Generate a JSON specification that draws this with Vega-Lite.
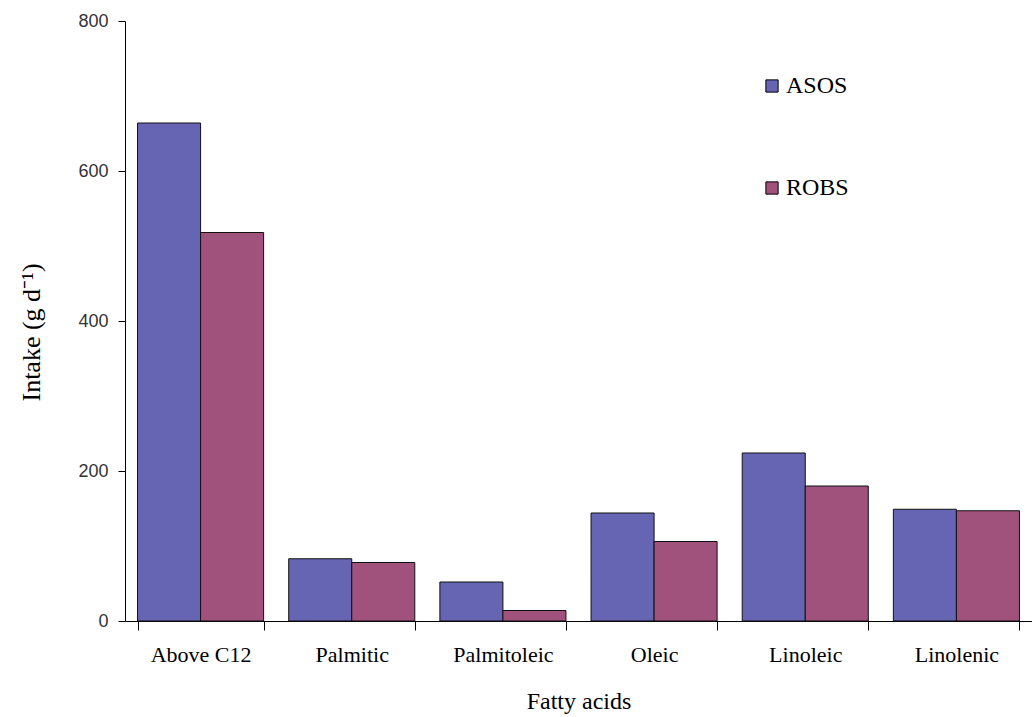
{
  "$schema": "https://vega.github.io/schema/vega-lite/v6.json",
  "width": 907,
  "height": 600,
  "autosize": "none",
  "padding": {"left": 125, "top": 21, "right": 0, "bottom": 96},
  "background": "white",
  "data": {
    "values": [
      {"acid": "Above C12", "diet": "ASOS", "intake": 664},
      {"acid": "Above C12", "diet": "ROBS", "intake": 518},
      {"acid": "Palmitic", "diet": "ASOS", "intake": 83},
      {"acid": "Palmitic", "diet": "ROBS", "intake": 78},
      {"acid": "Palmitoleic", "diet": "ASOS", "intake": 52},
      {"acid": "Palmitoleic", "diet": "ROBS", "intake": 14},
      {"acid": "Oleic", "diet": "ASOS", "intake": 144},
      {"acid": "Oleic", "diet": "ROBS", "intake": 106},
      {"acid": "Linoleic", "diet": "ASOS", "intake": 224},
      {"acid": "Linoleic", "diet": "ROBS", "intake": 180},
      {"acid": "Linolenic", "diet": "ASOS", "intake": 149},
      {"acid": "Linolenic", "diet": "ROBS", "intake": 147}
    ]
  },
  "mark": {"type": "bar", "stroke": "#111111", "strokeWidth": 1},
  "encoding": {
    "x": {
      "field": "acid",
      "type": "nominal",
      "sort": ["Above C12", "Palmitic", "Palmitoleic", "Oleic", "Linoleic", "Linolenic"],
      "scale": {"paddingInner": 0.166, "paddingOuter": 0.083},
      "axis": {
        "title": "Fatty acids",
        "titleFont": "Liberation Serif",
        "titleFontSize": 24,
        "titleFontWeight": "normal",
        "titleColor": "#000000",
        "titleBaseline": "alphabetic",
        "titleY": 87,
        "labelAngle": 0,
        "labelFont": "Liberation Serif",
        "labelFontSize": 22,
        "labelColor": "#000000",
        "labelPadding": 14,
        "tickBand": "extent",
        "tickSize": 9,
        "tickColor": "#000000",
        "domainColor": "#000000",
        "grid": false
      }
    },
    "xOffset": {
      "field": "diet",
      "type": "nominal",
      "sort": ["ASOS", "ROBS"],
      "scale": {"paddingInner": 0, "paddingOuter": 0}
    },
    "y": {
      "field": "intake",
      "type": "quantitative",
      "scale": {"domain": [0, 800], "nice": false},
      "axis": {
        "values": [0, 200, 400, 600, 800],
        "title": "Intake (g d⁻¹)",
        "titleFont": "Liberation Serif",
        "titleFontSize": 26,
        "titleFontWeight": "normal",
        "titleColor": "#000000",
        "titleX": -94,
        "titleY": 311,
        "titleAlign": "center",
        "titleBaseline": "middle",
        "titleAngle": -90,
        "labelFont": "Liberation Sans",
        "labelFontSize": 18,
        "labelColor": "#333333",
        "labelPadding": 10,
        "tickSize": 7,
        "tickColor": "#000000",
        "domainColor": "#000000",
        "grid": false
      }
    },
    "fill": {
      "field": "diet",
      "type": "nominal",
      "scale": {"domain": ["ASOS", "ROBS"], "range": ["#6565b4", "#a0527c"]},
      "legend": {
        "title": null,
        "orient": "none",
        "legendX": 635,
        "legendY": 53,
        "padding": 0,
        "rowPadding": 78,
        "symbolType": "square",
        "symbolSize": 150,
        "symbolStrokeColor": "#000000",
        "symbolStrokeWidth": 1,
        "labelFont": "Liberation Serif",
        "labelFontSize": 24,
        "labelColor": "#000000",
        "labelOffset": 2
      }
    }
  },
  "config": {"view": {"stroke": null}}
}
